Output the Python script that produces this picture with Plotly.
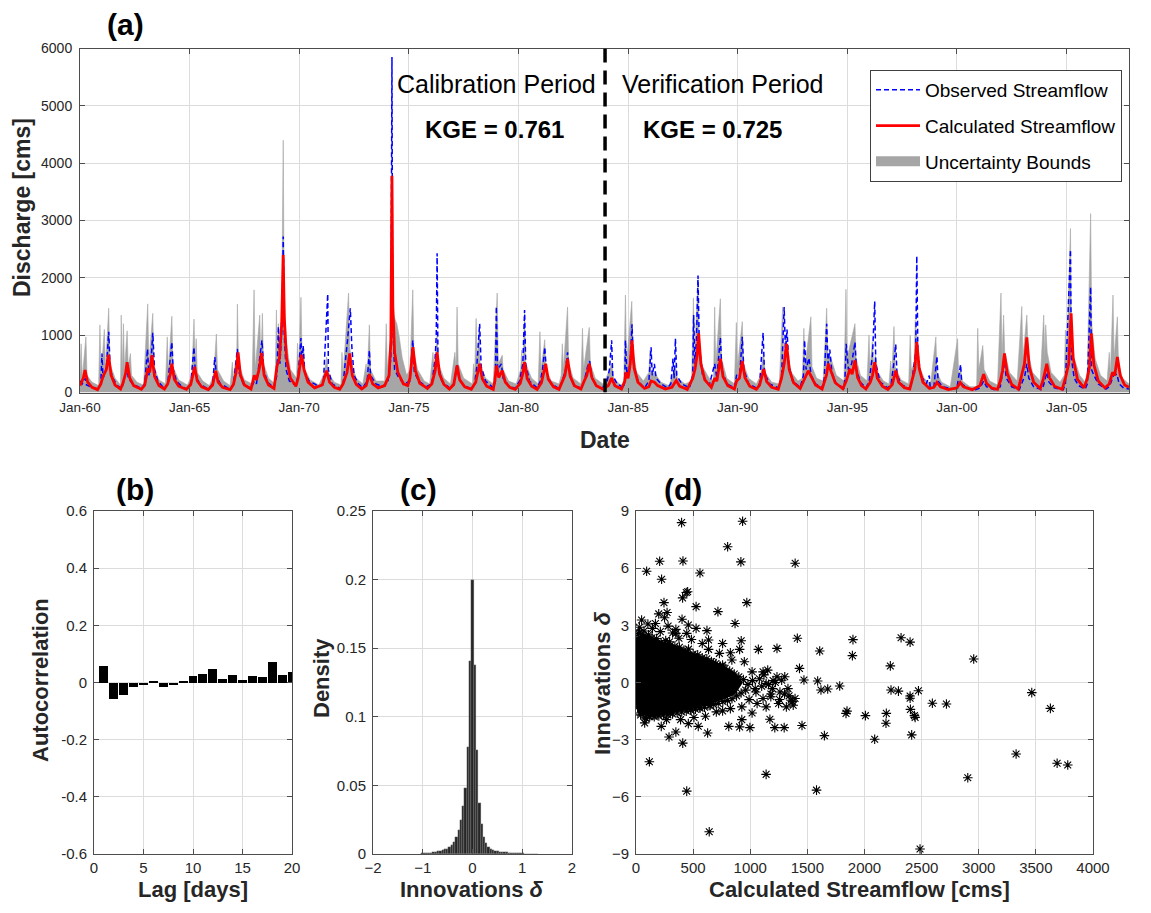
import plotly.graph_objects as go

# ---------------- panel (a): hydrograph ----------------
year_ticks = [1960, 1965, 1970, 1975, 1980, 1985, 1990, 1995, 2000, 2005]
year_labels = ["Jan-60", "Jan-65", "Jan-70", "Jan-75", "Jan-80", "Jan-85",
               "Jan-90", "Jan-95", "Jan-00", "Jan-05"]
split_year = 1983.95
kge_calibration = "0.761"
kge_verification = "0.725"

# (decimal year, discharge cms)
calc_points = [
    (1960.00, 120), (1960.15, 250), (1960.23, 390), (1960.35, 180), (1960.55, 90), (1960.80, 50),
    (1960.95, 150), (1961.05, 280), (1961.20, 400), (1961.30, 660), (1961.42, 300), (1961.60, 130), (1961.85, 60),
    (1961.95, 150), (1962.08, 330), (1962.15, 530), (1962.27, 250), (1962.45, 120), (1962.80, 55),
    (1962.95, 130), (1963.10, 420), (1963.18, 350), (1963.28, 650), (1963.40, 280), (1963.60, 120), (1963.85, 60),
    (1964.00, 150), (1964.12, 320), (1964.19, 500), (1964.30, 230), (1964.50, 110), (1964.85, 55),
    (1965.05, 140), (1965.15, 300), (1965.23, 450), (1965.35, 200), (1965.55, 100), (1965.85, 50),
    (1966.05, 130), (1966.19, 380), (1966.30, 180), (1966.50, 90), (1966.85, 50),
    (1967.00, 140), (1967.12, 350), (1967.21, 700), (1967.32, 300), (1967.50, 130), (1967.80, 60),
    (1967.95, 300), (1968.05, 220), (1968.18, 420), (1968.28, 690), (1968.40, 300), (1968.60, 130), (1968.85, 70),
    (1968.98, 450), (1969.10, 600), (1969.20, 1200), (1969.27, 2400), (1969.32, 1300), (1969.42, 600), (1969.60, 250), (1969.85, 110),
    (1969.95, 250), (1970.10, 660), (1970.22, 400), (1970.40, 180), (1970.70, 80),
    (1971.05, 130), (1971.25, 380), (1971.38, 180), (1971.60, 90), (1971.85, 55),
    (1972.00, 150), (1972.18, 350), (1972.30, 680), (1972.42, 300), (1972.60, 140), (1972.85, 60),
    (1973.05, 120), (1973.20, 320), (1973.35, 150), (1973.60, 80), (1973.90, 120),
    (1974.10, 300), (1974.18, 900), (1974.23, 3780), (1974.27, 1500), (1974.35, 700), (1974.50, 350), (1974.75, 150), (1974.95, 120),
    (1975.05, 250), (1975.19, 790), (1975.30, 380), (1975.50, 160), (1975.85, 70),
    (1976.05, 150), (1976.20, 380), (1976.29, 700), (1976.40, 320), (1976.60, 140), (1976.85, 60),
    (1977.05, 140), (1977.20, 470), (1977.32, 220), (1977.55, 100), (1977.85, 55),
    (1978.05, 180), (1978.23, 500), (1978.35, 240), (1978.55, 110), (1978.85, 55),
    (1978.92, 200), (1979.00, 470), (1979.10, 260), (1979.26, 380), (1979.40, 180), (1979.60, 90), (1979.85, 55),
    (1980.08, 160), (1980.20, 330), (1980.28, 530), (1980.40, 240), (1980.60, 110), (1980.85, 55),
    (1981.05, 170), (1981.24, 500), (1981.36, 230), (1981.60, 100), (1981.85, 55),
    (1982.00, 200), (1982.12, 300), (1982.24, 590), (1982.36, 280), (1982.55, 120), (1982.85, 60),
    (1983.00, 200), (1983.12, 300), (1983.23, 500), (1983.35, 260), (1983.55, 120), (1983.85, 60),
    (1984.10, 120), (1984.25, 250), (1984.40, 120), (1984.70, 60),
    (1984.85, 200), (1984.90, 350), (1985.00, 250), (1985.10, 500), (1985.18, 910), (1985.28, 420), (1985.45, 180), (1985.75, 70),
    (1985.95, 100), (1986.05, 200), (1986.20, 180), (1986.35, 120), (1986.70, 60),
    (1987.00, 90), (1987.20, 210), (1987.35, 110), (1987.70, 55),
    (1987.95, 250), (1988.05, 400), (1988.15, 650), (1988.22, 1030), (1988.32, 500), (1988.50, 220), (1988.80, 90),
    (1988.95, 250), (1989.05, 200), (1989.21, 590), (1989.33, 280), (1989.55, 120), (1989.85, 60),
    (1989.95, 200), (1990.08, 250), (1990.21, 550), (1990.33, 260), (1990.55, 110), (1990.85, 55),
    (1991.00, 130), (1991.19, 410), (1991.32, 190), (1991.55, 90), (1991.85, 55),
    (1992.00, 250), (1992.12, 500), (1992.23, 850), (1992.35, 400), (1992.55, 170), (1992.85, 70),
    (1993.00, 200), (1993.12, 300), (1993.22, 380), (1993.35, 280), (1993.55, 130), (1993.85, 60),
    (1993.95, 180), (1994.05, 300), (1994.13, 500), (1994.25, 380), (1994.45, 170), (1994.80, 65),
    (1994.95, 200), (1995.12, 410), (1995.22, 320), (1995.35, 560), (1995.47, 260), (1995.65, 120), (1995.85, 60),
    (1996.05, 180), (1996.15, 300), (1996.25, 530), (1996.37, 250), (1996.60, 110), (1996.85, 55),
    (1997.05, 140), (1997.21, 380), (1997.34, 180), (1997.60, 85), (1997.85, 60),
    (1997.95, 200), (1998.08, 400), (1998.17, 880), (1998.28, 420), (1998.45, 180), (1998.75, 70),
    (1998.95, 90), (1999.09, 175), (1999.25, 100), (1999.60, 50),
    (2000.00, 80), (2000.15, 175), (2000.30, 100), (2000.70, 50),
    (2001.05, 120), (2001.22, 320), (2001.35, 160), (2001.60, 75), (2001.85, 55),
    (2001.98, 200), (2002.08, 380), (2002.17, 680), (2002.30, 330), (2002.50, 140), (2002.80, 60),
    (2002.95, 300), (2003.08, 500), (2003.19, 960), (2003.30, 450), (2003.50, 180), (2003.80, 70),
    (2003.92, 200), (2004.10, 500), (2004.22, 260), (2004.45, 110), (2004.80, 55),
    (2004.95, 250), (2005.10, 500), (2005.21, 1380), (2005.30, 600), (2005.50, 230), (2005.80, 80),
    (2005.95, 250), (2006.05, 450), (2006.13, 1030), (2006.25, 480), (2006.45, 200), (2006.75, 80),
    (2006.95, 150), (2007.10, 350), (2007.20, 300), (2007.32, 620), (2007.45, 300), (2007.65, 130), (2007.85, 90),
]

obs_points = [
    (1960.00, 200), (1960.10, 150), (1960.25, 250), (1960.30, 130), (1960.50, 100), (1960.80, 60),
    (1960.95, 150), (1961.00, 680), (1961.05, 250), (1961.20, 400), (1961.31, 1060), (1961.38, 400), (1961.50, 250), (1961.70, 120), (1961.90, 70),
    (1962.00, 200), (1962.15, 500), (1962.20, 250), (1962.40, 150), (1962.80, 70),
    (1962.95, 150), (1963.08, 760), (1963.14, 300), (1963.25, 600), (1963.32, 1040), (1963.40, 400), (1963.55, 200), (1963.85, 70),
    (1964.00, 150), (1964.19, 880), (1964.25, 400), (1964.40, 200), (1964.60, 120), (1964.85, 60),
    (1965.05, 150), (1965.20, 790), (1965.26, 350), (1965.45, 150), (1965.85, 60),
    (1966.05, 150), (1966.15, 620), (1966.22, 300), (1966.40, 150), (1966.85, 60),
    (1967.00, 150), (1967.18, 760), (1967.25, 350), (1967.45, 150), (1967.80, 70),
    (1967.95, 200), (1968.05, 150), (1968.30, 910), (1968.38, 400), (1968.55, 180), (1968.85, 80),
    (1968.98, 300), (1969.05, 1150), (1969.12, 500), (1969.22, 1200), (1969.27, 2720), (1969.32, 1000), (1969.40, 400), (1969.55, 200), (1969.85, 120),
    (1969.95, 300), (1970.08, 950), (1970.12, 500), (1970.18, 820), (1970.25, 350), (1970.45, 200), (1970.70, 150), (1970.90, 100),
    (1971.10, 150), (1971.30, 1720), (1971.33, 400), (1971.50, 150), (1971.85, 70),
    (1972.00, 150), (1972.20, 900), (1972.26, 1200), (1972.33, 1470), (1972.40, 800), (1972.50, 300), (1972.70, 150), (1972.90, 80),
    (1973.10, 200), (1973.20, 735), (1973.25, 300), (1973.50, 150), (1973.80, 100),
    (1974.05, 200), (1974.18, 600), (1974.23, 5850), (1974.26, 1200), (1974.35, 400), (1974.55, 250), (1974.80, 150),
    (1975.05, 200), (1975.18, 910), (1975.25, 350), (1975.45, 200), (1975.80, 100),
    (1976.05, 150), (1976.20, 600), (1976.25, 1000), (1976.29, 2430), (1976.33, 500), (1976.50, 200), (1976.85, 80),
    (1977.05, 150), (1977.20, 500), (1977.28, 250), (1977.50, 120), (1977.85, 70),
    (1978.00, 150), (1978.10, 450), (1978.23, 1200), (1978.30, 450), (1978.50, 200), (1978.85, 80),
    (1978.95, 200), (1978.99, 1500), (1979.05, 400), (1979.22, 500), (1979.30, 250), (1979.55, 120), (1979.85, 70),
    (1980.05, 200), (1980.20, 500), (1980.28, 1440), (1980.33, 500), (1980.50, 200), (1980.85, 80),
    (1981.00, 200), (1981.10, 400), (1981.20, 790), (1981.28, 350), (1981.50, 150), (1981.85, 70),
    (1982.00, 200), (1982.15, 400), (1982.24, 700), (1982.32, 350), (1982.50, 150), (1982.85, 70),
    (1983.00, 200), (1983.15, 450), (1983.25, 550), (1983.35, 250), (1983.55, 120), (1983.85, 70),
    (1983.90, 150), (1984.00, 100), (1984.15, 400), (1984.25, 910), (1984.30, 300), (1984.50, 150), (1984.80, 80),
    (1984.85, 200), (1984.88, 910), (1984.95, 300), (1985.10, 500), (1985.18, 1190), (1985.25, 500), (1985.45, 200), (1985.75, 80),
    (1985.95, 200), (1986.05, 790), (1986.10, 300), (1986.20, 500), (1986.28, 250), (1986.50, 150), (1986.80, 80),
    (1986.95, 150), (1987.05, 590), (1987.10, 250), (1987.16, 940), (1987.22, 300), (1987.45, 150), (1987.80, 80),
    (1987.95, 300), (1987.99, 1350), (1988.05, 500), (1988.12, 900), (1988.19, 2040), (1988.25, 800), (1988.40, 300), (1988.70, 120),
    (1988.95, 500), (1989.05, 250), (1989.21, 960), (1989.28, 400), (1989.50, 150), (1989.85, 80),
    (1989.95, 300), (1990.10, 350), (1990.21, 970), (1990.28, 400), (1990.50, 150), (1990.85, 80),
    (1991.00, 150), (1991.16, 1040), (1991.22, 350), (1991.45, 150), (1991.85, 80),
    (1992.00, 250), (1992.12, 1490), (1992.18, 700), (1992.25, 1100), (1992.33, 500), (1992.50, 200), (1992.85, 90),
    (1993.00, 300), (1993.05, 910), (1993.12, 400), (1993.25, 600), (1993.35, 300), (1993.55, 150), (1993.85, 80),
    (1993.95, 250), (1994.06, 1200), (1994.12, 500), (1994.20, 750), (1994.30, 350), (1994.50, 150), (1994.85, 80),
    (1994.90, 300), (1994.95, 850), (1995.05, 400), (1995.20, 500), (1995.35, 880), (1995.42, 400), (1995.60, 180), (1995.85, 80),
    (1996.00, 200), (1996.15, 650), (1996.25, 1590), (1996.30, 500), (1996.50, 180), (1996.85, 80),
    (1997.00, 150), (1997.12, 500), (1997.21, 840), (1997.27, 300), (1997.50, 130), (1997.85, 70),
    (1997.95, 200), (1998.05, 500), (1998.12, 700), (1998.17, 2380), (1998.22, 700), (1998.35, 300), (1998.60, 150), (1998.74, 295), (1998.78, 100),
    (1998.95, 100), (1999.09, 630), (1999.14, 200), (1999.35, 100), (1999.80, 60),
    (2000.00, 80), (2000.17, 490), (2000.22, 150), (2000.50, 70), (2000.85, 50),
    (2001.05, 80), (2001.22, 200), (2001.35, 100), (2001.70, 50),
    (2001.98, 100), (2002.17, 560), (2002.25, 250), (2002.50, 100), (2002.85, 50),
    (2002.95, 150), (2003.10, 300), (2003.19, 500), (2003.28, 250), (2003.50, 100), (2003.85, 50),
    (2003.95, 120), (2004.10, 350), (2004.20, 180), (2004.45, 80), (2004.85, 50),
    (2004.95, 150), (2005.18, 2490), (2005.22, 600), (2005.35, 250), (2005.55, 120), (2005.85, 60),
    (2005.95, 150), (2006.10, 1840), (2006.14, 400), (2006.25, 300), (2006.45, 150), (2006.80, 60),
    (2006.95, 100), (2007.15, 300), (2007.30, 320), (2007.40, 150), (2007.60, 80), (2007.85, 60),
]

upper_points = [
    (1960.00, 300), (1960.05, 850), (1960.10, 250), (1960.27, 970), (1960.32, 300), (1960.55, 180), (1960.85, 120),
    (1960.91, 1180), (1960.96, 300), (1961.11, 1100), (1961.16, 400), (1961.31, 1470), (1961.36, 500), (1961.60, 250), (1961.85, 130),
    (1961.88, 1350), (1961.93, 300), (1961.98, 1200), (1962.03, 400), (1962.15, 1075), (1962.20, 450), (1962.30, 680), (1962.35, 300), (1962.60, 180), (1962.90, 130),
    (1963.09, 1545), (1963.14, 500), (1963.32, 1380), (1963.37, 450), (1963.60, 220), (1963.90, 150),
    (1963.98, 970), (1964.03, 350), (1964.19, 1330), (1964.24, 450), (1964.50, 220), (1964.90, 130),
    (1965.10, 300), (1965.20, 1280), (1965.25, 500), (1965.30, 940), (1965.35, 350), (1965.60, 200), (1965.90, 120),
    (1966.10, 300), (1966.15, 600), (1966.22, 1020), (1966.27, 400), (1966.55, 200), (1966.85, 120),
    (1966.95, 530), (1967.00, 250), (1967.10, 560), (1967.14, 300), (1967.18, 1540), (1967.23, 500), (1967.50, 220), (1967.85, 150),
    (1967.94, 1790), (1967.99, 400), (1968.20, 1350), (1968.25, 500), (1968.32, 1380), (1968.37, 500), (1968.60, 250), (1968.90, 150),
    (1968.96, 1440), (1969.00, 600), (1969.05, 1200), (1969.10, 700), (1969.20, 1400), (1969.27, 4400), (1969.31, 1800), (1969.40, 900), (1969.60, 400), (1969.88, 250),
    (1969.92, 860), (1969.97, 400), (1970.08, 1660), (1970.13, 600), (1970.20, 760), (1970.25, 400), (1970.50, 220), (1970.90, 130),
    (1971.15, 350), (1971.25, 620), (1971.32, 350), (1971.60, 180), (1971.90, 130),
    (1971.95, 700), (1972.00, 300), (1972.25, 1735), (1972.30, 800), (1972.40, 500), (1972.60, 250), (1972.90, 150),
    (1973.05, 500), (1973.10, 300), (1973.20, 1180), (1973.25, 400), (1973.50, 200), (1973.90, 200),
    (1973.97, 1200), (1974.02, 400), (1974.18, 1000), (1974.23, 3000), (1974.28, 1400), (1974.35, 1300), (1974.45, 1200), (1974.55, 1000), (1974.70, 600), (1974.90, 300),
    (1975.05, 400), (1975.18, 1790), (1975.23, 700), (1975.40, 400), (1975.70, 200), (1975.95, 150),
    (1976.10, 700), (1976.15, 400), (1976.25, 950), (1976.29, 1000), (1976.35, 500), (1976.60, 250), (1976.90, 150),
    (1977.10, 700), (1977.15, 400), (1977.20, 1490), (1977.25, 500), (1977.50, 250), (1977.90, 150),
    (1977.95, 500), (1978.00, 300), (1978.07, 1290), (1978.12, 500), (1978.20, 1080), (1978.25, 500), (1978.50, 250), (1978.85, 150),
    (1979.03, 1735), (1979.08, 500), (1979.26, 650), (1979.30, 400), (1979.55, 200), (1979.90, 150),
    (1980.10, 400), (1980.15, 740), (1980.20, 400), (1980.28, 1380), (1980.33, 500), (1980.60, 250), (1980.90, 150),
    (1980.98, 1060), (1981.03, 400), (1981.20, 920), (1981.25, 400), (1981.50, 200), (1981.85, 150),
    (1981.95, 300), (1982.00, 850), (1982.05, 400), (1982.24, 1490), (1982.29, 500), (1982.50, 250), (1982.85, 150),
    (1982.92, 1120), (1982.97, 400), (1983.23, 1135), (1983.28, 500), (1983.50, 250), (1983.85, 150),
    (1983.95, 200), (1984.10, 350), (1984.25, 500), (1984.35, 250), (1984.60, 150), (1984.80, 120),
    (1984.88, 1700), (1984.93, 500), (1985.17, 1590), (1985.22, 700), (1985.40, 350), (1985.70, 200),
    (1985.95, 350), (1986.00, 735), (1986.05, 300), (1986.20, 350), (1986.50, 180), (1986.85, 120),
    (1987.00, 250), (1987.16, 470), (1987.25, 250), (1987.60, 150), (1987.90, 200),
    (1987.98, 1650), (1988.03, 600), (1988.19, 1970), (1988.24, 900), (1988.40, 450), (1988.70, 250), (1988.90, 200),
    (1988.95, 1490), (1989.00, 500), (1989.21, 1635), (1989.26, 600), (1989.50, 250), (1989.85, 150),
    (1989.94, 1220), (1989.99, 450), (1990.21, 1235), (1990.26, 500), (1990.50, 250), (1990.85, 150),
    (1991.05, 300), (1991.12, 560), (1991.18, 700), (1991.25, 350), (1991.55, 180), (1991.90, 150),
    (1992.05, 1490), (1992.10, 600), (1992.20, 1000), (1992.28, 700), (1992.45, 350), (1992.75, 200), (1992.95, 250),
    (1993.02, 1120), (1993.07, 450), (1993.34, 1320), (1993.39, 450), (1993.60, 250), (1993.90, 200),
    (1994.06, 1470), (1994.11, 600), (1994.25, 600), (1994.50, 300), (1994.85, 200),
    (1994.94, 1800), (1994.99, 600), (1995.35, 1200), (1995.40, 600), (1995.60, 300), (1995.90, 200),
    (1995.99, 1000), (1996.04, 400), (1996.14, 880), (1996.20, 500), (1996.28, 650), (1996.40, 350), (1996.65, 200), (1996.90, 150),
    (1996.98, 550), (1997.03, 300), (1997.13, 1150), (1997.18, 450), (1997.45, 220), (1997.80, 150),
    (1997.87, 1000), (1997.92, 400), (1998.05, 500), (1998.10, 1260), (1998.17, 900), (1998.25, 500), (1998.50, 250), (1998.80, 150),
    (1999.04, 970), (1999.09, 350), (1999.30, 180), (1999.70, 100),
    (2000.03, 940), (2000.08, 300), (2000.17, 400), (2000.25, 200), (2000.60, 100), (2000.90, 100),
    (2000.95, 1120), (2001.00, 400), (2001.18, 820), (2001.24, 400), (2001.50, 200), (2001.85, 130),
    (2002.01, 1735), (2002.06, 600), (2002.13, 1350), (2002.18, 700), (2002.40, 350), (2002.75, 200),
    (2002.96, 1500), (2003.01, 600), (2003.19, 1350), (2003.25, 700), (2003.45, 350), (2003.80, 200),
    (2003.96, 1350), (2004.01, 600), (2004.05, 1180), (2004.12, 700), (2004.30, 350), (2004.70, 180),
    (2004.90, 300), (2004.95, 1090), (2005.00, 500), (2005.18, 2860), (2005.22, 1200), (2005.35, 600), (2005.60, 300), (2005.85, 180),
    (2005.95, 400), (2006.10, 3120), (2006.15, 1200), (2006.30, 600), (2006.55, 300), (2006.85, 200),
    (2006.95, 700), (2007.00, 300), (2007.12, 1700), (2007.17, 600), (2007.32, 1320), (2007.37, 500), (2007.55, 250), (2007.85, 150),
]
# lower uncertainty bound sits on the axis over the whole record
lower_points = [(1960.00, 0), (2007.85, 0)]

# ---------------- panel (b): autocorrelation ----------------
lags = [1, 2, 3, 4, 5, 6, 7, 8, 9, 10, 11, 12, 13, 14, 15, 16, 17, 18, 19, 20]
acf = [0.057, -0.056, -0.042, -0.017, -0.010, 0.007, -0.014, -0.010, 0.003, 0.023,
       0.031, 0.047, 0.014, 0.026, 0.010, 0.024, 0.020, 0.070, 0.028, 0.037]
acf_ticks = [-0.6, -0.4, -0.2, 0, 0.2, 0.4, 0.6]
acf_tick_labels = ["-0.6", "-0.4", "-0.2", "0", "0.2", "0.4", "0.6"]

# ---------------- panel (c): histogram of innovations ----------------
bin_centers = [-1.012, -0.966, -0.920, -0.874, -0.828, -0.782, -0.736, -0.690, -0.644, -0.598,
               -0.552, -0.506, -0.460, -0.414, -0.368, -0.322, -0.276, -0.230, -0.184, -0.138,
               -0.092, -0.046, 0.000, 0.046, 0.092, 0.138, 0.184, 0.230, 0.276, 0.322,
               0.368, 0.414, 0.460, 0.506, 0.552, 0.598, 0.644, 0.690, 0.736, 0.782,
               0.828, 0.874, 0.920, 0.966, 1.012, 1.058, 1.104, 1.150, 1.196, 1.242, 1.288]
density = [0.0004, 0.0005, 0.0006, 0.0008, 0.0010, 0.0013, 0.0016, 0.0020, 0.0025, 0.0030,
           0.0035, 0.0040, 0.0050, 0.0066, 0.0090, 0.0126, 0.0175, 0.0250, 0.0350, 0.0480,
           0.0780, 0.1410, 0.2000, 0.1380, 0.0760, 0.0370, 0.0220, 0.0126, 0.0078, 0.0053,
           0.0040, 0.0030, 0.0025, 0.0020, 0.0018, 0.0015, 0.0013, 0.0011, 0.0010, 0.0008,
           0.0007, 0.0006, 0.0005, 0.0005, 0.0004, 0.0003, 0.0003, 0.0002, 0.0002, 0.0001, 0.0001]
dens_ticks = [0, 0.05, 0.1, 0.15, 0.2, 0.25]
dens_tick_labels = ["0", "0.05", "0.1", "0.15", "0.2", "0.25"]

# ---------------- panel (d): innovations vs calculated flow ----------------
# outline of the saturated (solid black) core of the point cloud
core_x = [0, 60, 150, 250, 350, 450, 550, 650, 750, 850, 920, 860, 750, 650, 500, 350, 200, 100, 30, 0]
core_y = [2.2, 2.5, 2.25, 2.05, 1.85, 1.6, 1.35, 1.1, 0.85, 0.5, 0.0, -0.55, -0.85, -1.05,
          -1.3, -1.5, -1.6, -1.7, -1.55, -0.9]
# individual points around and outside the core
pts_x = [49, 104, 199, 245, 272, 403, 458, 526, 621, 717, 758, 867, 970, 1071, 1234, 1412, 1431,
         1297, 1215, 1172, 1016, 997, 926, 907, 812, 627, 545, 409, 289, 349, 221, 117, 444, 1139,
         76, 191, 267, 390, 458, 507, 608, 703, 758, 826, 926, 1139, 1248, 1316, 1376, 1392, 1357,
         1256, 1180, 1112, 1194, 1275, 1330, 1302, 1234, 1153, 1112, 1016, 1044, 1139, 839, 826,
         907, 921, 948, 676, 758, 580, 635, 526, 349, 444, 485, 376, 294, 213, 144, 22, 281, 349,
         635, 730, 30, 60, 120, 170, 250, 320, 40, 90, 150, 230, 300, 480, 560, 650,
         10, 35, 70, 110, 140, 180, 220, 260, 300, 340, 380, 420, 460, 500, 540, 580, 620, 660,
         700, 740, 780, 820, 860, 900, 940, 980, 960, 920, 880, 840, 800, 760, 720, 680, 640, 600,
         560, 520, 480, 440, 400, 360, 320, 280, 240, 200, 160, 120, 80, 40, 15, 15,
         1050, 1100, 1180, 1220, 1260, 1300, 1340, 1370, 1080, 1160, 1020, 990, 1060, 1120, 1200,
         399, 933, 802, 918, 207, 411, 1393, 93, 560, 224, 440, 408, 452, 641, 2486, 1580,
         1470, 1590, 1608, 1619, 1678, 1783, 1894, 1899, 2226, 2320, 2399, 2232, 2297, 2472, 2399,
         2399, 2594, 2717, 2956, 3464, 3627, 1847, 1838, 2008, 2191, 2188, 2402, 2437, 2443, 2413,
         2089, 1453, 1649, 3327, 2904, 3686, 3779]
pts_y = [3.28, 3.07, 3.60, 4.19, 3.67, 3.32, 3.02, 3.98, 2.72, 3.72, 2.05, 3.10, 4.19, 1.74, 1.79, 2.32, 0.74,
         -2.37, -2.37, -1.93, -1.60, -2.37, -1.95, -2.33, -2.30, -2.65, -2.30, -3.18, -2.86, -2.60, -2.30, -4.16, -5.70, -4.82,
         -2.12, -1.67, -1.95, -1.95, -2.16, -1.84, -1.77, -1.54, -1.49, -1.37, -1.28, -1.28, -1.10, -1.28, -1.19, -0.84, -0.93,
         -0.89, -0.75, -0.84, -0.32, 0.12, -0.32, 0.30, 0.30, 0.65, 0.56, 0.56, -0.32, -0.05, 1.18, 1.56,
         1.74, 2.19, 1.09, 1.04, 0.91, 2.05, 2.23, 2.84, 2.58, 2.58, 2.26, 2.32, 2.14, 2.67, 2.84, 2.58, 2.96, 2.79,
         1.74, 1.53, 2.90, 2.40, 2.20, 3.10, 3.40, 2.60, -1.60, -1.90, -1.70, -1.50, -1.60, -1.40, -1.30, -1.20,
         2.30, 2.60, 2.70, 2.50, 2.35, 2.30, 2.10, 2.20, 1.95, 1.90, 1.85, 1.70, 1.75, 1.50, 1.45, 1.30, 1.25, 1.10,
         1.00, 0.85, 0.75, 0.60, 0.45, 0.30, 0.15, -0.10, -0.40, -0.55, -0.70, -0.85, -0.95, -1.00, -1.10, -1.15, -1.20, -1.30,
         -1.35, -1.40, -1.45, -1.50, -1.55, -1.60, -1.65, -1.70, -1.70, -1.75, -1.80, -1.80, -1.85, -1.70, -1.30, 1.90,
         -0.50, -0.20, -0.60, 0.00, -0.50, -0.60, -0.70, -1.00, 0.20, -0.10, 0.10, -0.90, -1.10, 0.40, 0.10,
         8.39, 8.46, 7.12, 6.33, 6.36, 6.38, 6.26, 5.84, 5.75, 5.42, 4.72, 4.44, 4.76, -7.83, -8.74, -5.65,
         0.13, 0.08, 1.65, -0.39, -0.34, -0.18, 1.41, 2.25, 0.87, 2.35, 2.12, -0.39, -0.45, -0.43, -0.71,
         -0.83, -1.09, -1.13, 1.23, -0.53, -1.36, -1.50, -1.62, -1.74, -1.62, -2.14, -1.41, -1.74, -1.83, -2.75,
         -2.98, -2.26, -2.79, -3.75, -5.00, -4.24, -4.33]

# ---------------- build figure ----------------
W, H = 1151, 913
FONT = "Liberation Sans, Arial, sans-serif"
TXT = "#262626"


def px_x(p):
    return p / W


def px_y(p):
    return 1 - p / H


def unpack(points):
    pts = sorted(points)
    return [p[0] for p in pts], [p[1] for p in pts]


calc_t, calc_q = unpack(calc_points)
obs_t, obs_q = unpack(obs_points)
up_t, up_q = unpack(upper_points)
lo_t, lo_q = unpack(lower_points)

fig = go.Figure()

fig.add_trace(go.Scatter(x=lo_t, y=lo_q, mode="lines", line=dict(color="#a6a6a6", width=0),
                         showlegend=False, xaxis="x", yaxis="y", hoverinfo="skip"))
fig.add_trace(go.Scatter(x=up_t, y=up_q, mode="lines", fill="tonexty",
                         fillcolor="#a6a6a6", line=dict(color="#a6a6a6", width=0.6),
                         showlegend=False, xaxis="x", yaxis="y", hoverinfo="skip"))
fig.add_trace(go.Scatter(x=obs_t, y=obs_q, mode="lines",
                         line=dict(color="#0000ff", width=1.5, dash="5px,3px"),
                         name="Observed Streamflow", legendgroup="g1",
                         xaxis="x", yaxis="y"))
fig.add_trace(go.Scatter(x=calc_t, y=calc_q, mode="lines",
                         line=dict(color="#ff0000", width=2.8),
                         name="Calculated Streamflow", legendgroup="g2",
                         xaxis="x", yaxis="y"))
# legend entry for the grey band (swatch only)
fig.add_trace(go.Scatter(x=[None], y=[None], mode="lines",
                         line=dict(color="#a6a6a6", width=10),
                         name="Uncertainty Bounds", legendgroup="g3",
                         xaxis="x", yaxis="y"))

fig.add_trace(go.Bar(x=lags, y=acf, width=0.9, marker=dict(color="black", line=dict(width=0)),
                     showlegend=False, xaxis="x2", yaxis="y2"))

fig.add_trace(go.Bar(x=bin_centers, y=density, width=0.046,
                     marker=dict(color="#262626", line=dict(color="#9a9a9a", width=0.3)),
                     showlegend=False, xaxis="x3", yaxis="y3"))

fig.add_trace(go.Scatter(x=core_x, y=core_y, mode="lines", fill="toself", fillcolor="black",
                         line=dict(color="black", width=3), showlegend=False,
                         xaxis="x4", yaxis="y4", hoverinfo="skip"))
fig.add_trace(go.Scatter(x=pts_x, y=pts_y, mode="markers",
                         marker=dict(symbol="asterisk", size=8, color="black",
                                     line=dict(color="black", width=1.1)),
                         showlegend=False, xaxis="x4", yaxis="y4"))


def axis(**kw):
    base = dict(showline=True, linecolor="#4d4d4d", linewidth=1, mirror="ticks",
                ticks="inside", ticklen=5, tickcolor="#4d4d4d", showgrid=True,
                gridcolor="#dcdcdc", gridwidth=1, zeroline=False,
                tickfont=dict(family=FONT, size=15, color=TXT))
    base.update(kw)
    return base


fig.update_layout(
    width=W, height=H, autosize=False,
    margin=dict(l=0, r=0, t=0, b=0, pad=0, autoexpand=False),
    paper_bgcolor="white", plot_bgcolor="white",
    font=dict(family=FONT, color=TXT),
    bargap=0,
    xaxis=axis(domain=[px_x(80), px_x(1129)], range=[1960, 2007.85], anchor="y",
               tickvals=year_ticks, ticktext=year_labels, ticklabelstandoff=2,
               tickfont=dict(family=FONT, size=13.5, color=TXT)),
    yaxis=axis(domain=[px_y(392.5), px_y(48.5)], range=[0, 6000], dtick=1000, anchor="x",
               ticklabelstandoff=4, tickfont=dict(family=FONT, size=14, color=TXT)),
    xaxis2=axis(domain=[px_x(94), px_x(292)], range=[0, 20], dtick=5, anchor="y2"),
    yaxis2=axis(domain=[px_y(854), px_y(511)], range=[-0.6, 0.6], anchor="x2",
                tickvals=acf_ticks, ticktext=acf_tick_labels, ticklabelstandoff=3),
    xaxis3=axis(domain=[px_x(373), px_x(572)], range=[-2, 2], dtick=1, anchor="y3"),
    yaxis3=axis(domain=[px_y(854), px_y(511)], range=[0, 0.25], anchor="x3",
                tickvals=dens_ticks, ticktext=dens_tick_labels, ticklabelstandoff=3),
    xaxis4=axis(domain=[px_x(636), px_x(1093)], range=[0, 4000], dtick=500, anchor="y4"),
    yaxis4=axis(domain=[px_y(854), px_y(511)], range=[-9, 9], dtick=3, anchor="x4",
                ticklabelstandoff=3),
    legend=dict(x=px_x(1122), y=px_y(70), xanchor="right", yanchor="top",
                bgcolor="white", bordercolor="#404040", borderwidth=1,
                font=dict(family=FONT, size=19, color="black"),
                itemwidth=44, tracegroupgap=8, traceorder="grouped"),
    shapes=[dict(type="line", xref="x", yref="y", x0=split_year, x1=split_year,
                 y0=0, y1=6000, line=dict(color="black", width=3.5, dash="14px,8px"))],
)

annotations = []


def ann(text, x, y, size, angle=0, color="black"):
    annotations.append(dict(text=text, x=px_x(x), y=px_y(y), xref="paper", yref="paper",
                            xanchor="center", yanchor="middle", showarrow=False,
                            textangle=angle, font=dict(family=FONT, size=size, color=color)))


ann("<b>(a)</b>", 125, 24, 30)
ann("<b>(b)</b>", 135, 489, 30)
ann("<b>(c)</b>", 418, 489, 30)
ann("<b>(d)</b>", 683, 489, 30)
ann("Calibration Period", 496, 84, 25)
ann("<b>KGE = " + kge_calibration + "</b>", 494, 130, 24)
ann("Verification Period", 723, 84, 25)
ann("<b>KGE = " + kge_verification + "</b>", 712, 130, 24)
ann("<b>Discharge [cms]</b>", 22, 208, 23, angle=-90, color=TXT)
ann("<b>Date</b>", 605, 440, 23, color=TXT)
ann("<b>Autocorrelation</b>", 40, 680, 22, angle=-90, color=TXT)
ann("<b>Lag [days]</b>", 193, 889, 22, color=TXT)
ann("<b>Density</b>", 321, 678, 22, angle=-90, color=TXT)
ann("<b>Innovations <i>δ</i></b>", 472, 889, 22, color=TXT)
ann("<b>Innovations <i>δ</i></b>", 602, 683, 22, angle=-90, color=TXT)
ann("<b>Calculated Streamflow [cms]</b>", 860, 889, 22, color=TXT)

fig.update_layout(annotations=annotations)

fig.write_html("out.html", config={"displayModeBar": False},
               post_script="document.body.style.margin='0';document.body.style.overflow='hidden';")
